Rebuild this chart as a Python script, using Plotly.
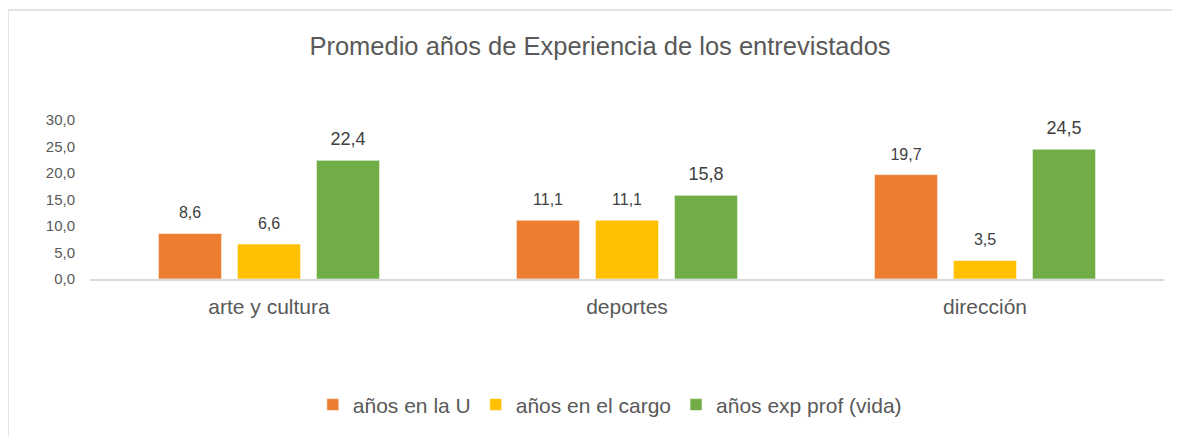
"""
Promedio años de experiencia de los entrevistados - grouped bar chart.
"""

import plotly.graph_objects as go


# --- Data ---
categories = ["arte y cultura", "deportes", "dirección"]
series_names = ["años en la U", "años en el cargo", "años exp prof (vida)"]
anos_en_la_u = [8.6, 11.1, 19.7]
anos_en_el_cargo = [6.6, 11.1, 3.5]
anos_exp_prof = [22.4, 15.8, 24.5]
y_tick_values = [0, 5, 10, 15, 20, 25, 30]

series_values = [anos_en_la_u, anos_en_el_cargo, anos_exp_prof]
series_colors = ["#ED7D31", "#FFC000", "#70AD47"]
label_sizes = [16, 16, 18]

FONT = "Liberation Sans, Arial, sans-serif"
TEXT_GREY = "#595959"
LABEL_GREY = "#404040"
LINE_GREY = "#D9D9D9"
BAR_GAP = 0.338


figure = go.Figure()
for idx, (name, values, color) in enumerate(zip(series_names, series_values, series_colors)):
    figure.add_trace(
        go.Bar(
            x = categories,
            y = values,
            name = name,
            offsetgroup = str(idx),
            marker = {"color": color, "line": {"color": "rgba(255,255,255,0.6)", "width": 1}},
            hovertemplate = "%{x}<br>" + name + " = %{y:.1f}<extra></extra>",
        )
    )

# data labels sit a little higher than plotly's outside text, so draw them as grouped text points
for idx, (name, values, size) in enumerate(zip(series_names, series_values, label_sizes)):
    figure.add_trace(
        go.Scatter(
            x = categories,
            y = values,
            mode = "markers+text",
            offsetgroup = str(idx),
            marker = {"size": 16, "opacity": 0},
            texttemplate = "%{y:.1f}",
            textposition = "top center",
            textfont = {"family": FONT, "size": size, "color": LABEL_GREY},
            cliponaxis = False,
            showlegend = False,
            hoverinfo = "skip",
        )
    )

# chart border (Excel chart area outline)
figure.add_shape(
    type = "rect",
    xref = "paper",
    yref = "paper",
    x0 = -0.0764,
    x1 = 1.03,
    y0 = -1.1,
    y1 = 1.692,
    line = {"color": LINE_GREY, "width": 1.5},
    fillcolor = "rgba(0,0,0,0)",
    layer = "below",
)

figure.update_layout(
    width = 1180,
    height = 436,
    margin = {"l": 82, "r": 24, "t": 112, "b": 165},
    paper_bgcolor = "white",
    plot_bgcolor = "white",
    separators = ",.",
    barmode = "group",
    bargap = BAR_GAP,
    bargroupgap = 0.2,
    scattermode = "group",
    scattergap = BAR_GAP,
    font = {"family": FONT, "color": TEXT_GREY},
    title = {
        "text": "Promedio años de Experiencia de los entrevistados",
        "x": 0.5017,
        "xanchor": "center",
        "y": 0.9128,
        "yanchor": "middle",
        "font": {"size": 25.5, "color": TEXT_GREY, "family": FONT},
    },
    legend = {
        "orientation": "h",
        "x": 0.484,
        "xanchor": "center",
        "y": -0.792,
        "yanchor": "middle",
        "font": {"size": 21, "color": TEXT_GREY, "family": FONT},
        "itemwidth": 30,
        "traceorder": "normal",
    },
    showlegend = True,
)

figure.update_yaxes(
    range = [0, 30],
    tickvals = y_tick_values,
    tickformat = ".1f",
    showgrid = False,
    zeroline = False,
    showline = False,
    tickfont = {"size": 15, "color": TEXT_GREY},
    ticklabelstandoff = 14,
)
figure.update_xaxes(
    showline = True,
    linecolor = LINE_GREY,
    linewidth = 1.5,
    showgrid = False,
    ticks = "",
    tickfont = {"size": 21, "color": TEXT_GREY},
    ticklabelstandoff = 8,
)

figure.write_html("out.html")
